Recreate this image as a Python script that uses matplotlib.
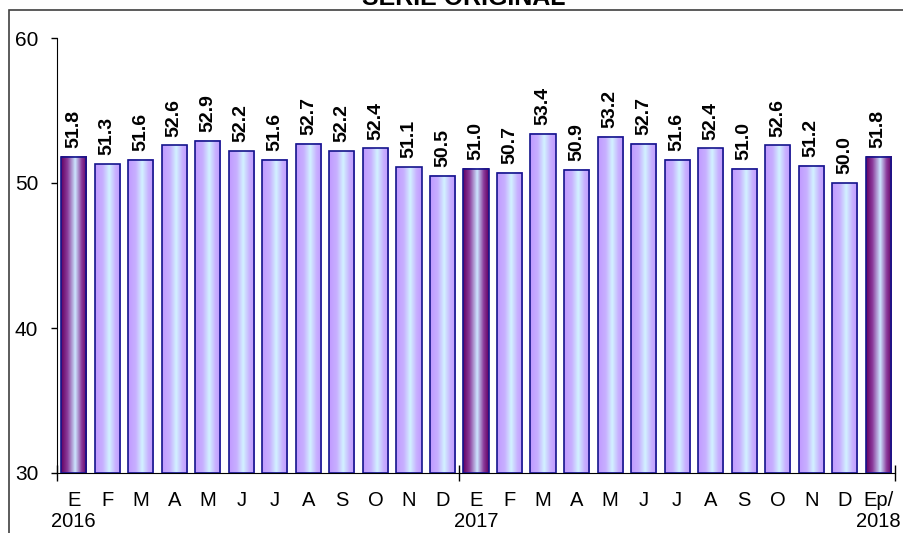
import numpy as np
import matplotlib.pyplot as plt
from matplotlib.colors import LinearSegmentedColormap
from matplotlib.patches import Rectangle

plt.rcParams['font.family'] = ['Liberation Sans', 'DejaVu Sans']

# data
months = ['E', 'F', 'M', 'A', 'M', 'J', 'J', 'A', 'S', 'O', 'N', 'D',
          'E', 'F', 'M', 'A', 'M', 'J', 'J', 'A', 'S', 'O', 'N', 'D', 'Ep/']
years = {0: '2016', 12: '2017', 24: '2018'}
values = [51.8, 51.3, 51.6, 52.6, 52.9, 52.2, 51.6, 52.7, 52.2, 52.4, 51.1, 50.5,
          51.0, 50.7, 53.4, 50.9, 53.2, 52.7, 51.6, 52.4, 51.0, 52.6, 51.2, 50.0,
          51.8]
highlight = [0, 12, 24]

light = LinearSegmentedColormap.from_list('light', [
    (0, '#c09aff'), (0.3, '#c8b0ff'), (0.55, '#d2f2ff'), (0.8, '#c8b0ff'), (1, '#c09aff')])
dark = LinearSegmentedColormap.from_list('dark', [
    (0, '#620062'), (0.25, '#8c3c9c'), (0.55, '#cce6ff'), (0.8, '#8c3c9c'), (1, '#620062')])
grad = np.linspace(0, 1, 64).reshape(1, -1)

fig = plt.figure(figsize=(9.04, 5.33), dpi=100)
ax = fig.add_axes([57/904, 1-473/533, (895-57)/904, (473-38)/533])

x = np.arange(len(values))
bars = ax.bar(x, [v - 30 for v in values], bottom=30, width=0.75,
              facecolor='none', edgecolor='#14148c', linewidth=1.2, zorder=3)

for i, b in enumerate(bars):
    cm = dark if i in highlight else light
    ax.imshow(grad, cmap=cm, aspect='auto', zorder=2,
              extent=[b.get_x(), b.get_x() + b.get_width(), 30, 30 + b.get_height()])
    ax.text(i, values[i] + 0.6, f'{values[i]:.1f}', rotation=90, ha='center',
            va='bottom', fontsize=14, fontweight='bold')

ax.set_xlim(-0.5, len(values) - 0.5)
ax.set_ylim(30, 60)
ax.set_yticks([30, 40, 50, 60])
ax.tick_params(axis='y', direction='out', length=4.5, width=1, labelsize=15, pad=9)

ax.set_xticks([-0.5, 11.5, 24.5])
ax.set_xticklabels([])
ax.tick_params(axis='x', which='major', direction='inout', length=12, width=1)
ax.set_xticks(x, minor=True)
labels = [m + ('\n' + years[i] if i in years else '') for i, m in enumerate(months)]
ax.set_xticklabels(labels, minor=True, linespacing=1.15)
ax.tick_params(axis='x', which='minor', length=0, labelsize=14.5, pad=13)

for s in ['top', 'right']:
    ax.spines[s].set_visible(False)

fig.text(464/904, 1 - 5/533, 'SERIE ORIGINAL', ha='center', va='baseline',
         fontsize=18, fontweight='bold')
fig.add_artist(Rectangle((9/904, -0.1), 1.2, 1 - 10/533 + 0.1, transform=fig.transFigure,
                         fill=False, edgecolor='#404040', linewidth=1.2, clip_on=False))

plt.savefig('out.png', dpi=100)
